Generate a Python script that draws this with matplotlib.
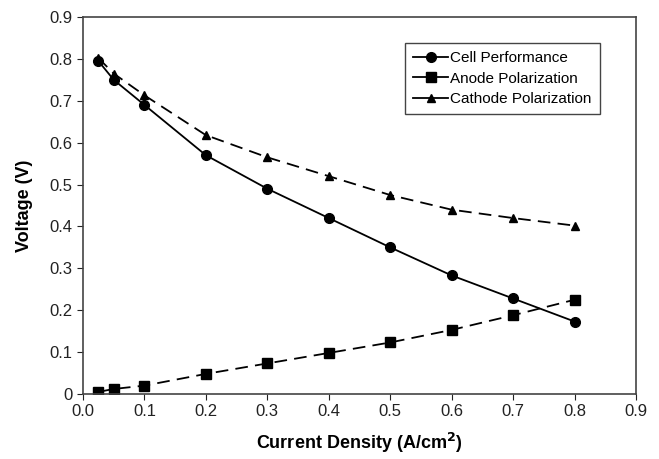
import matplotlib
matplotlib.use('Agg')
import matplotlib.pyplot as plt

plt.rcParams['font.family'] = ['Liberation Sans', 'DejaVu Sans']

# current density (A/cm2)
densidad = [0.025, 0.05, 0.1, 0.2, 0.3, 0.4, 0.5, 0.6, 0.7, 0.8]
celda = [0.795, 0.75, 0.69, 0.57, 0.49, 0.42, 0.35, 0.283, 0.228, 0.173]
anodo = [0.005, 0.012, 0.02, 0.048, 0.073, 0.098, 0.123, 0.153, 0.188, 0.225]
catodo = [0.802, 0.765, 0.713, 0.618, 0.565, 0.52, 0.475, 0.44, 0.42, 0.402]

xticks = [0.0, 0.1, 0.2, 0.3, 0.4, 0.5, 0.6, 0.7, 0.8, 0.9]
yticks = [0, 0.1, 0.2, 0.3, 0.4, 0.5, 0.6, 0.7, 0.8, 0.9]
ylabels = ['0', '0.1', '0.2', '0.3', '0.4', '0.5', '0.6', '0.7', '0.8', '0.9']

fig = plt.figure(figsize=(6.59, 4.59), dpi=100)
ax = fig.add_axes([83/659, 1-394/459, 553/659, 377/459])

ax.plot(densidad, celda, color='black', lw=1.3, marker='o', ms=7, label='Cell Performance')
ax.plot(densidad, anodo, color='black', lw=1.3, ls=(0, (7, 4)), marker='s', ms=6.5, label='Anode Polarization')
ax.plot(densidad, catodo, color='black', lw=1.3, ls=(0, (7, 4)), marker='^', ms=5.5, label='Cathode Polarization')

ax.set_xlim(0, 0.9)
ax.set_ylim(0, 0.9)
ax.set_xticks(xticks)
ax.set_xticklabels(['%.1f' % t for t in xticks])
ax.set_yticks(yticks)
ax.set_yticklabels(ylabels)
ax.tick_params(direction='out', length=4, labelsize=12, colors='#222222')
for s in ax.spines.values():
    s.set_color('#444444')
    s.set_linewidth(1.2)

ax.set_xlabel('Current Density (A/cm$^\\mathbf{2}$)', fontsize=13, fontweight='bold', labelpad=8)
ax.set_ylabel('Voltage (V)', fontsize=13, fontweight='bold', labelpad=12)

leg = ax.legend(loc='upper right', bbox_to_anchor=(0.948, 0.952), fontsize=11,
                fancybox=False, framealpha=1, edgecolor='#444444',
                handlelength=2.3, handletextpad=0.1, borderpad=0.55, labelspacing=0.42)
leg.get_frame().set_linewidth(1.0)
for h in leg.get_lines():
    h.set_linestyle('-')

fig.savefig('out.png', dpi=100)
